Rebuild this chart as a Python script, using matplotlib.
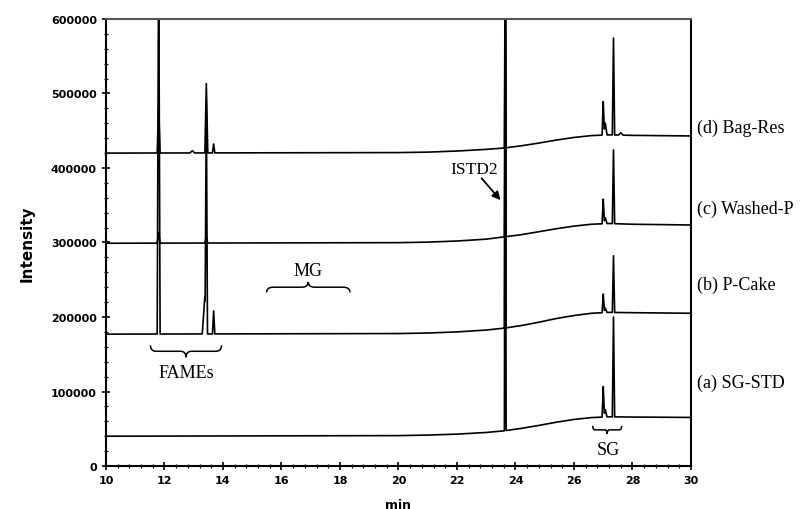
"""
GC chromatograms of SG standard and biodiesel samples (stacked traces).
"""

import numpy as np
import matplotlib.pyplot as plt
from matplotlib.path import Path
from matplotlib.patches import PathPatch

# baseline knots (min) and baseline level of each trace
base_t = [10, 20, 21, 22, 23, 23.6, 24.2, 24.8, 25.4, 26, 26.6, 27.2, 28, 30]
base_a = [40000, 40800, 41500, 42800, 45000, 47200, 50500, 54500, 58800, 62500, 65000, 66000, 65700, 65200]
base_b = [177000, 177800, 178500, 180000, 182500, 185000, 188500, 193000, 198000, 202000, 205000, 206200, 205800, 205000]
base_c = [299000, 299800, 300500, 302000, 304500, 307500, 310500, 314500, 318500, 322000, 324500, 325500, 324500, 323500]
base_d = [420000, 420700, 421300, 422800, 425000, 426800, 429800, 433500, 437500, 441000, 443500, 444500, 443800, 443000]

# peaks: retention time (min), height above baseline, half base width (min)
rt_a = [23.65, 27.0, 27.07, 27.35]
h_a = [640000, 41000, 10000, 134000]
w_a = [0.03, 0.04, 0.06, 0.04]

rt_b = [11.8, 13.38, 13.43, 13.68, 23.65, 27.0, 27.07, 27.35]
h_b = [520000, 50000, 290000, 31000, 500000, 25000, 6000, 76000]
w_b = [0.05, 0.09, 0.04, 0.04, 0.03, 0.04, 0.06, 0.04]

rt_c = [11.8, 13.43, 23.65, 27.0, 27.07, 27.35]
h_c = [14000, 8000, 400000, 33000, 8000, 99000]
w_c = [0.05, 0.05, 0.03, 0.04, 0.06, 0.04]

rt_d = [11.8, 12.95, 13.43, 13.68, 23.65, 27.0, 27.07, 27.35, 27.6]
h_d = [63000, 3000, 93000, 12000, 300000, 45000, 16000, 130000, 3000]
w_d = [0.05, 0.08, 0.05, 0.04, 0.03, 0.04, 0.06, 0.04, 0.08]

trace_labels = ['(a) SG-STD', '(b) P-Cake', '(c) Washed-P', '(d) Bag-Res']
label_y = [112800, 244300, 346300, 455000]

yticks = [0, 100000, 200000, 300000, 400000, 500000, 600000]
xticks = [10, 12, 14, 16, 18, 20, 22, 24, 26, 28, 30]

SERIF = 'Liberation Serif'


def trace(base, rts, hs, ws):
    pts = list(base_t)
    for t, w in zip(rts, ws):
        pts += [t - w, t, t + w]
    x = np.unique(pts)
    y = np.interp(x, base_t, base)
    for t, h, w in zip(rts, hs, ws):
        y = y + np.interp(x, [t - w, t, t + w], [0, h, 0], left=0, right=0)
    return x, y


def brace(ax, x0, x1, y, h):
    # horizontal curly brace, tip goes to y+h, ends to y-h
    xm = (x0 + x1) / 2
    q = (x1 - x0) * 0.08
    verts = [(x0, y - h), (x0, y), (x0 + q, y), (xm - q, y),
             (xm, y), (xm, y + h), (xm, y), (xm + q, y),
             (x1 - q, y), (x1, y), (x1, y - h)]
    codes = [Path.MOVETO, Path.CURVE3, Path.CURVE3, Path.LINETO,
             Path.CURVE3, Path.CURVE3, Path.CURVE3, Path.CURVE3,
             Path.LINETO, Path.CURVE3, Path.CURVE3]
    ax.add_patch(PathPatch(Path(verts, codes), fill=False, lw=1.1, color='black'))


def main():
    fig = plt.figure(figsize=(8, 5.1), dpi=100)
    ax = fig.add_axes([0.1325, 0.0843, 0.73125, 0.8765])

    for base, rts, hs, ws in [(base_a, rt_a, h_a, w_a), (base_b, rt_b, h_b, w_b),
                              (base_c, rt_c, h_c, w_c), (base_d, rt_d, h_d, w_d)]:
        x, y = trace(base, rts, hs, ws)
        ax.plot(x, y, color='black', lw=1.2)

    ax.set_xlim(10, 30)
    ax.set_ylim(0, 600000)
    ax.set_xticks(xticks)
    ax.set_yticks(yticks)
    ax.set_xticks(np.arange(10, 30.01, 0.4), minor=True)
    ax.set_yticks(np.arange(0, 600001, 20000), minor=True)
    ax.tick_params(which='major', direction='inout', length=6, width=1.2, labelsize=8)
    ax.tick_params(which='minor', direction='inout', length=3, width=0.9)
    ax.tick_params(right=False, top=False, which='both')
    for lab in ax.get_xticklabels() + ax.get_yticklabels():
        lab.set_fontweight('bold')
    for s in ['left', 'bottom', 'right']:
        ax.spines[s].set_linewidth(1.5)
    ax.spines['top'].set_color('#555555')
    ax.spines['top'].set_linewidth(1.5)

    ax.set_ylabel('Intensity', fontsize=11, fontweight='bold', labelpad=12)
    ax.set_xlabel('min', fontsize=9, fontweight='bold', labelpad=9)

    for txt, yy in zip(trace_labels, label_y):
        ax.text(30.2, yy, txt, fontsize=13, family=SERIF, va='center', ha='left', clip_on=False)

    brace(ax, 11.52, 13.95, 154000, -8000)
    ax.text(12.76, 126000, 'FAMEs', fontsize=13, family=SERIF, ha='center', va='center')
    brace(ax, 15.49, 18.34, 240000, 7000)
    ax.text(16.9, 262000, 'MG', fontsize=13, family=SERIF, ha='center', va='center')
    brace(ax, 26.64, 27.63, 48500, -5500)
    ax.text(27.16, 22800, 'SG', fontsize=13, family=SERIF, ha='center', va='center')

    ax.text(22.6, 398000, 'ISTD2', fontsize=12.5, family=SERIF, ha='center', va='center')
    ax.annotate('', xy=(23.55, 354000), xytext=(22.78, 389000),
                arrowprops=dict(arrowstyle='-|>', color='black', lw=1.3, mutation_scale=12))

    fig.savefig('out.png', dpi=100)


if __name__ == '__main__':
    main()
